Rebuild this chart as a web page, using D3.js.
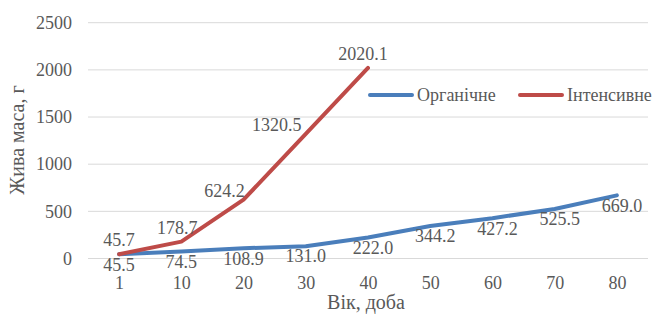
<!DOCTYPE html>
<html>
<head>
<meta charset="utf-8">
<script src="https://cdn.jsdelivr.net/npm/d3@7"></script>
</head>
<body style="margin:0;background:#fff">
<script>
"use strict";

// chart data
const days = ["1", "10", "20", "30", "40", "50", "60", "70", "80"];
const organic = [45.5, 74.5, 108.9, 131.0, 222.0, 344.2, 427.2, 525.5, 669.0];
const intensive = [45.7, 178.7, 624.2, 1320.5, 2020.1];
const yTicks = [0, 500, 1000, 1500, 2000, 2500];
const seriesNames = ["Органічне", "Інтенсивне"];

const width = 655, height = 316;
const colors = ["#4a7ebb", "#be4b48"];
const textColor = "#595959";

const svg = d3.select("body").append("svg")
  .attr("width", width).attr("height", height);

const x = d3.scalePoint().domain(days).range([88, 648]).padding(0.5);
const y = d3.scaleLinear().domain([0, 2500]).range([258.5, 22.7]);

// same look for every label
function styleText(sel, size) {
  sel.attr("font-family", null)
    .style("font-family", d => "'Times New Roman'")
    .style("font-size", size + "px")
    .attr("fill", textColor);
}

// gridlines
svg.append("g").selectAll("line").data(yTicks).enter().append("line")
  .attr("x1", 88).attr("x2", 648)
  .attr("y1", d => y(d)).attr("y2", d => y(d))
  .attr("stroke", "#d9d9d9").attr("stroke-width", 1);

// y axis labels
const yAxis = svg.append("g").attr("transform", "translate(72,0)")
  .call(d3.axisLeft(y).tickValues(yTicks).tickFormat(d3.format("d")).tickSize(0).tickPadding(0));
yAxis.attr("font-family", null).attr("font-size", null);
yAxis.select(".domain").remove();
styleText(yAxis.selectAll("text"), 18);

// x axis labels
const xAxis = svg.append("g").attr("transform", "translate(0,276)")
  .call(d3.axisBottom(x).tickSize(0).tickPadding(0));
xAxis.attr("font-family", null).attr("font-size", null);
xAxis.select(".domain").remove();
styleText(xAxis.selectAll("text"), 18);

// axis titles
styleText(svg.append("text").attr("x", 366).attr("y", 309)
  .attr("text-anchor", "middle").text("Вік, доба"), 20);
styleText(svg.append("text").attr("transform", "translate(24,140) rotate(-90)")
  .attr("text-anchor", "middle").text("Жива маса, г"), 20);

// lines
const line = d3.line().x((d, i) => x(days[i])).y(d => y(d));
[organic, intensive].forEach((s, k) => {
  svg.append("path").datum(s)
    .attr("d", line)
    .attr("fill", "none")
    .attr("stroke", colors[k])
    .attr("stroke-width", 4)
    .attr("stroke-linejoin", "round")
    .attr("stroke-linecap", "round");
});

// data labels: organic below, intensive above (shifted left on steep part)
styleText(svg.append("g").selectAll("text").data(organic).enter().append("text")
  .attr("x", (d, i) => x(days[i]) + (i >= 4 ? 5 : 0))
  .attr("y", d => y(d) + 10)
  .attr("dy", "0.35em")
  .attr("text-anchor", "middle")
  .text(d => d.toFixed(1)), 18);

const intensiveShift = [0, -4, -19, -29, -5];
styleText(svg.append("g").selectAll("text").data(intensive).enter().append("text")
  .attr("x", (d, i) => x(days[i]) + intensiveShift[i])
  .attr("y", (d, i) => y(d) - (i === 2 || i === 3 ? 9 : 14))
  .attr("dy", "0.35em")
  .attr("text-anchor", "middle")
  .text(d => d.toFixed(1)), 18);

// legend
const legend = svg.append("g").selectAll("g").data(seriesNames).enter().append("g")
  .attr("transform", (d, i) => "translate(" + (370 + i * 150) + ",95)");
legend.append("line")
  .attr("x1", 0).attr("x2", 42)
  .attr("stroke", (d, i) => colors[i])
  .attr("stroke-width", 4).attr("stroke-linecap", "round");
styleText(legend.append("text")
  .attr("x", 47).attr("dy", "0.35em")
  .text(d => d), 18);
</script>
</body>
</html>
